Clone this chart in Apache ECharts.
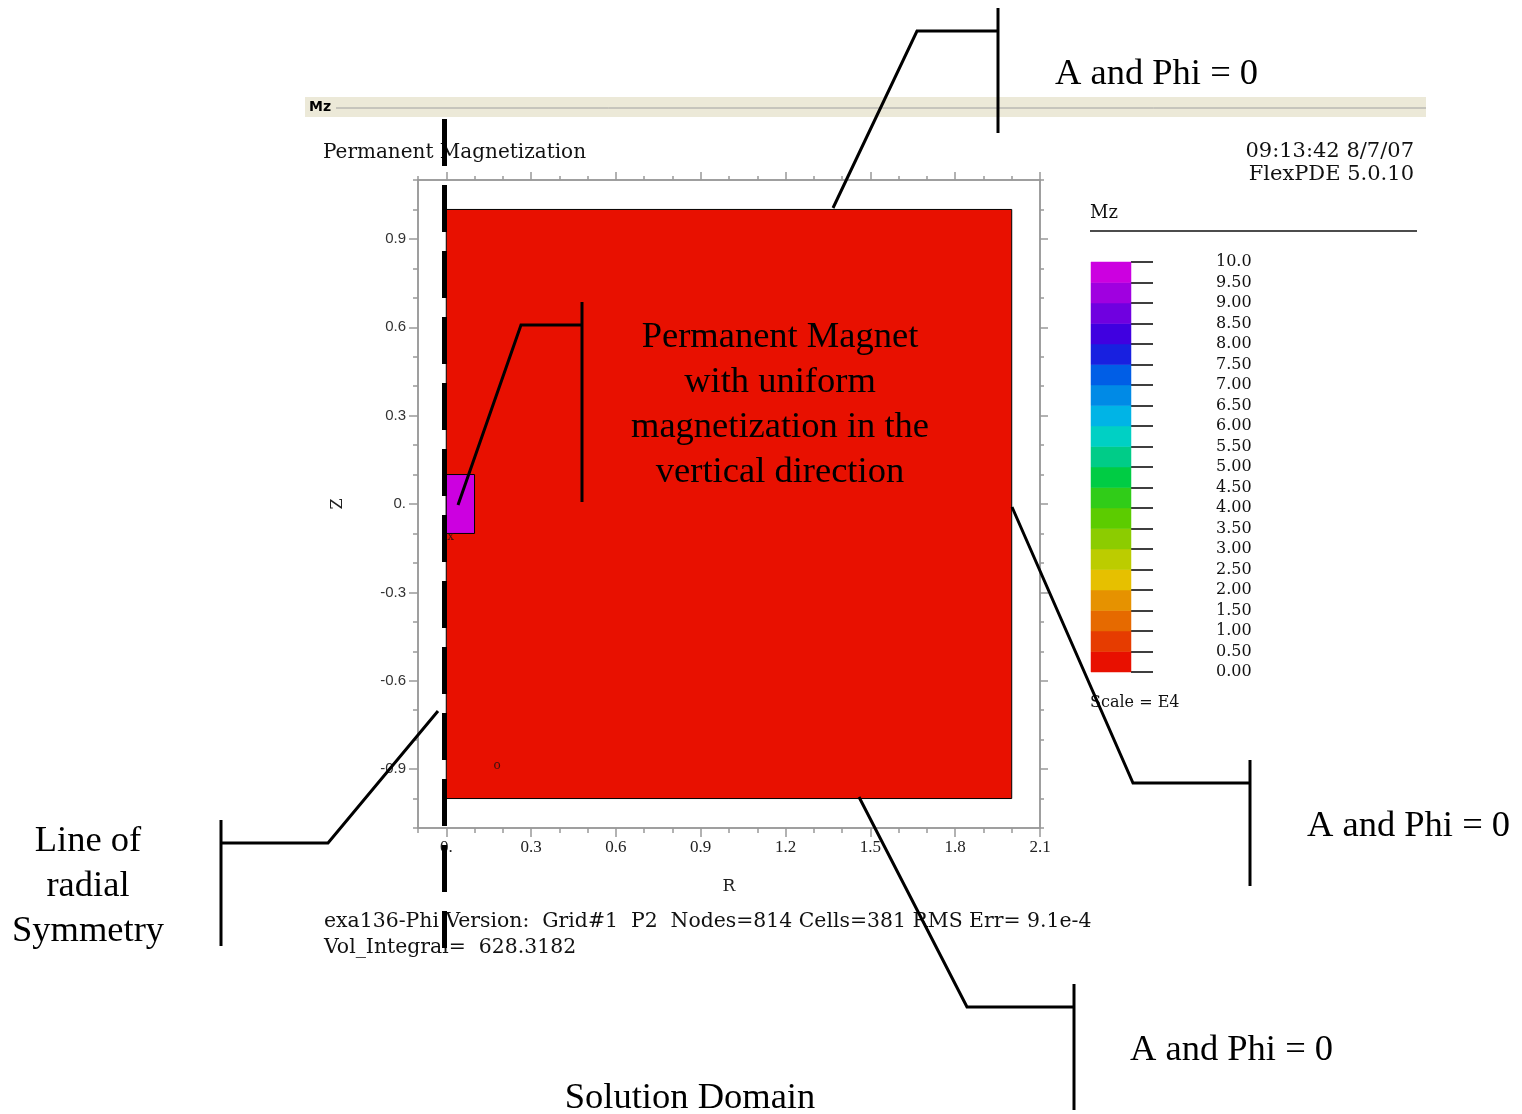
<!DOCTYPE html>
<html>
<head>
<meta charset="utf-8">
<script src="https://cdn.jsdelivr.net/npm/echarts@6/dist/echarts.min.js"></script>
<style>
  html, body { margin: 0; padding: 0; background: #fff; }
  #chart { width: 1522px; height: 1114px; }
</style>
</head>
<body>
<div id="chart"></div>
<script>
// axis ticks (R horizontal, Z vertical)
var xMajorTicks = [0, 0.3, 0.6, 0.9, 1.2, 1.5, 1.8, 2.1];
var xMajorLabels = ['0.', '0.3', '0.6', '0.9', '1.2', '1.5', '1.8', '2.1'];
var xMinorTicks = [-0.1, 0, 0.1, 0.2, 0.3, 0.4, 0.5, 0.6, 0.7, 0.8, 0.9, 1.0, 1.1,
  1.2, 1.3, 1.4, 1.5, 1.6, 1.7, 1.8, 1.9, 2.0, 2.1];
var yMajorTicks = [-0.9, -0.6, -0.3, 0, 0.3, 0.6, 0.9];
var yMajorLabels = ['-0.9', '-0.6', '-0.3', '0.', '0.3', '0.6', '0.9'];
var yMinorTicks = [-1.1, -1.0, -0.9, -0.8, -0.7, -0.6, -0.5, -0.4, -0.3, -0.2, -0.1, 0,
  0.1, 0.2, 0.3, 0.4, 0.5, 0.6, 0.7, 0.8, 0.9, 1.0, 1.1];

// regions of the model: r range, z range, Mz (scale E4)
var regionNames = ['Solution domain', 'Permanent magnet'];
var regionR = [[0, 2.0], [0, 0.1]];
var regionZ = [[-1.0, 1.0], [-0.1, 0.1]];
var regionMz = [0, 10.0];

// plot markers
var markerText = ['x', 'o'];
var markerR = [0.015, 0.18];
var markerZ = [-0.11, -0.89];

// colour scale (bottom to top)
var scaleLevels = [0, 0.5, 1.0, 1.5, 2.0, 2.5, 3.0, 3.5, 4.0, 4.5, 5.0,
  5.5, 6.0, 6.5, 7.0, 7.5, 8.0, 8.5, 9.0, 9.5, 10.0];
var scaleLabels = ['0.00', '0.50', '1.00', '1.50', '2.00', '2.50', '3.00', '3.50', '4.00', '4.50', '5.00',
  '5.50', '6.00', '6.50', '7.00', '7.50', '8.00', '8.50', '9.00', '9.50', '10.0'];
var scaleColors = ['#e81000', '#e63c00', '#e66a00', '#e69200', '#e6c000', '#bccc00', '#8ccc00',
  '#5ccc00', '#30cc18', '#00cc44', '#00cc88', '#00d0c4', '#00b4e6', '#008ae6', '#005ee6',
  '#1820e0', '#4000e0', '#7000e0', '#a000e0', '#cc00e0'];

var axisGrey = '#999';
var serif = '"Liberation Serif", "Times New Roman", serif';
var plotSerif = '"DejaVu Serif", serif';

function nearestLabel(ticks, labels, v) {
  for (var i = 0; i < ticks.length; i++) {
    if (Math.abs(ticks[i] - v) < 1e-6) return labels[i];
  }
  return '';
}

function colorFor(v) {
  for (var i = 0; i < scaleColors.length; i++) {
    if (v < scaleLevels[i + 1]) return scaleColors[i];
  }
  return scaleColors[scaleColors.length - 1];
}

var regionData = regionNames.map(function (n, i) {
  return [regionR[i][0], regionR[i][1], regionZ[i][0], regionZ[i][1], regionMz[i]];
});
var bandData = scaleColors.map(function (c, i) {
  return [0, 1, scaleLevels[i], scaleLevels[i + 1], i];
});
var markerData = markerText.map(function (t, i) { return [markerR[i], markerZ[i], t]; });

function renderRegion(params, api) {
  var a = api.coord([api.value(0), api.value(3)]);
  var b = api.coord([api.value(1), api.value(2)]);
  return {
    type: 'rect',
    shape: { x: a[0], y: a[1], width: b[0] - a[0], height: b[1] - a[1] },
    style: { fill: colorFor(api.value(4)), stroke: '#000', lineWidth: 1 }
  };
}

function renderBand(params, api) {
  var a = api.coord([api.value(0), api.value(3)]);
  var b = api.coord([api.value(1), api.value(2)]);
  var c = scaleColors[api.value(4)];
  return {
    type: 'rect',
    shape: { x: a[0], y: a[1], width: b[0] - a[0], height: b[1] - a[1] },
    style: { fill: c, stroke: c, lineWidth: 0.5 }
  };
}

function xAxisDef(position, ticks, len, withLabels) {
  return {
    type: 'value', gridIndex: 0, position: position, min: -0.1, max: 2.1,
    axisLine: { show: true, onZero: false, lineStyle: { color: axisGrey, width: 1.5 } },
    axisTick: { show: true, customValues: ticks, length: len, lineStyle: { color: axisGrey, width: 1.5 } },
    axisLabel: withLabels ? {
      show: true, customValues: xMajorTicks, margin: 11, color: '#222',
      fontFamily: serif, fontSize: 17,
      formatter: function (v) { return nearestLabel(xMajorTicks, xMajorLabels, v); }
    } : { show: false },
    splitLine: { show: false },
    name: withLabels ? 'R' : '', nameLocation: 'middle', nameGap: 50,
    nameTextStyle: { fontFamily: plotSerif, fontSize: 17, color: '#222' }
  };
}

function yAxisDef(position, ticks, len, withLabels) {
  return {
    type: 'value', gridIndex: 0, position: position, min: -1.1, max: 1.1,
    axisLine: { show: true, onZero: false, lineStyle: { color: axisGrey, width: 1.5 } },
    axisTick: { show: true, customValues: ticks, length: len, lineStyle: { color: axisGrey, width: 1.5 } },
    axisLabel: withLabels ? {
      show: true, customValues: yMajorTicks, margin: 12, color: '#333',
      fontFamily: '"Liberation Sans", Arial, sans-serif', fontSize: 15,
      formatter: function (v) { return nearestLabel(yMajorTicks, yMajorLabels, v); }
    } : { show: false },
    splitLine: { show: false },
    name: withLabels ? 'Z' : '', nameLocation: 'middle', nameGap: 72,
    nameTextStyle: { fontFamily: plotSerif, fontSize: 16, color: '#222' }
  };
}

function callout(pts) {
  return { type: 'polyline', z: 100, shape: { points: pts },
    style: { stroke: '#000', lineWidth: 3, fill: null } };
}
function note(text, x, y, align) {
  return { type: 'text', z: 100, style: { text: text, x: x, y: y, fill: '#000',
    font: '36.5px ' + serif, textAlign: align || 'left', textVerticalAlign: 'middle', lineHeight: 45 } };
}
function plotText(text, x, y, size, align) {
  return { type: 'text', z: 50, style: { text: text, x: x, y: y, fill: '#111',
    font: size + 'px ' + plotSerif, textAlign: align || 'left', textVerticalAlign: 'middle' } };
}

var chart = echarts.init(document.getElementById('chart'), null, { renderer: 'canvas' });

chart.setOption({
  backgroundColor: '#fff',
  animation: false,
  grid: [
    { left: 418, top: 180, width: 622, height: 648 },
    { left: 1091, top: 262, width: 40, height: 410 }
  ],
  xAxis: [
    xAxisDef('bottom', xMajorTicks, 9, true),
    xAxisDef('bottom', xMinorTicks, 5, false),
    xAxisDef('top', xMajorTicks, 8, false),
    xAxisDef('top', xMinorTicks, 4, false),
    { type: 'value', gridIndex: 1, min: 0, max: 1, show: false }
  ],
  yAxis: [
    yAxisDef('left', yMajorTicks, 9, true),
    yAxisDef('left', yMinorTicks, 5, false),
    yAxisDef('right', yMajorTicks, 8, false),
    yAxisDef('right', yMinorTicks, 4, false),
    {
      type: 'value', gridIndex: 1, position: 'right', min: 0, max: 10, interval: 0.5,
      axisLine: { show: false, onZero: false },
      axisTick: { show: true, inside: false, length: 22, lineStyle: { color: '#000', width: 1.5 } },
      axisLabel: {
        show: true, margin: 85, color: '#111', fontFamily: plotSerif, fontSize: 16,
        formatter: function (v) { return nearestLabel(scaleLevels, scaleLabels, v); }
      },
      splitLine: { show: false }
    }
  ],
  series: [
    {
      type: 'custom', name: 'Mz', xAxisIndex: 0, yAxisIndex: 0,
      renderItem: renderRegion, data: regionData,
      encode: { x: [0, 1], y: [2, 3] }, z: 2
    },
    {
      type: 'scatter', xAxisIndex: 0, yAxisIndex: 0, symbolSize: 0, data: markerData, z: 3,
      label: { show: true, position: 'inside', color: '#111', fontFamily: plotSerif, fontSize: 12,
        formatter: function (p) { return p.data[2]; } }
    },
    {
      type: 'custom', name: 'scale', xAxisIndex: 4, yAxisIndex: 4,
      renderItem: renderBand, data: bandData,
      encode: { x: [0, 1], y: [2, 3] }
    }
  ],
  graphic: [
    // FlexPDE window header
    { type: 'rect', z: 1, shape: { x: 305, y: 97, width: 1121, height: 20 }, style: { fill: '#ece9d8' } },
    { type: 'line', z: 2, shape: { x1: 336, y1: 108, x2: 1426, y2: 108 }, style: { stroke: '#a0a0a0', lineWidth: 1 } },
    { type: 'text', z: 3, style: { text: 'Mz', x: 309, y: 107, fill: '#000',
      font: 'bold 14px "DejaVu Sans", sans-serif', textVerticalAlign: 'middle' } },
    plotText('Permanent Magnetization', 323, 153, 20),
    plotText('09:13:42 8/7/07', 1414, 152, 21, 'right'),
    plotText('FlexPDE 5.0.10', 1414, 175, 21, 'right'),
    plotText('Mz', 1090, 213, 18),
    { type: 'line', z: 2, shape: { x1: 1090, y1: 231, x2: 1417, y2: 231 }, style: { stroke: '#111', lineWidth: 1.5 } },
    plotText('Scale = E4', 1090, 703, 16),
    plotText('exa136-Phi Version:  Grid#1  P2  Nodes=814 Cells=381 RMS Err= 9.1e-4', 324, 922, 20.4),
    plotText('Vol_Integral=  628.3182', 324, 948, 20.4),

    // line of radial symmetry
    { type: 'line', z: 90, shape: { x1: 444.5, y1: 119, x2: 444.5, y2: 948 },
      style: { stroke: '#000', lineWidth: 5, lineDash: [47, 19] } },

    // callouts
    callout([[998, 8], [998, 133]]), callout([[998, 31], [917, 31], [833, 208]]),
    note('A and Phi = 0', 1055, 74),
    callout([[1250, 760], [1250, 886]]), callout([[1250, 783], [1133, 783], [1012, 507]]),
    note('A and Phi = 0', 1307, 826),
    callout([[1074, 984], [1074, 1110]]), callout([[1074, 1007], [967, 1007], [859, 797]]),
    note('A and Phi = 0', 1130, 1050),
    callout([[221, 820], [221, 946]]), callout([[221, 843], [328, 843], [438, 711]]),
    note('Line of\nradial\nSymmetry', 88, 886, 'center'),
    callout([[582, 302], [582, 502]]), callout([[582, 325], [521, 325], [458, 505]]),
    note('Permanent Magnet\nwith uniform\nmagnetization in the\nvertical direction', 780, 405, 'center'),
    note('Solution Domain', 690, 1098, 'center')
  ]
});
</script>
</body>
</html>
